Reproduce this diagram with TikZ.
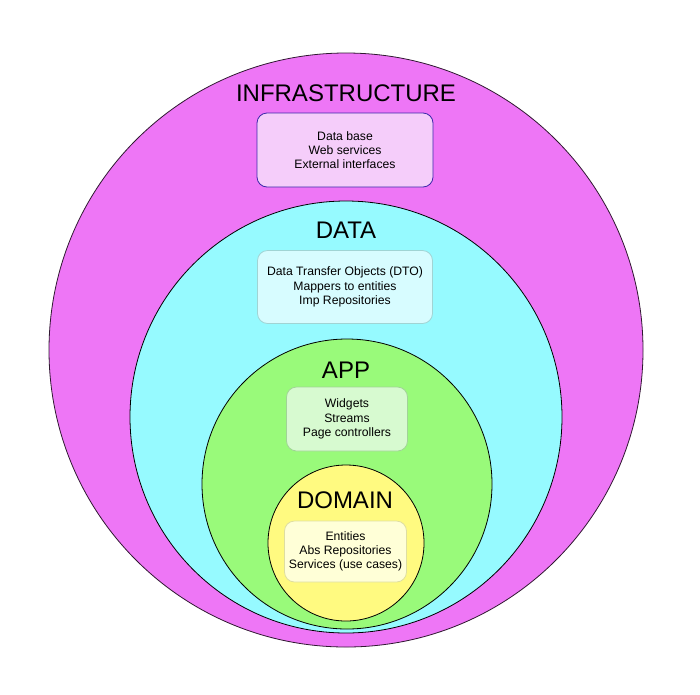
\documentclass[tikz,border=0pt]{standalone}
\usepackage{fontspec}
\setmainfont{Liberation Sans}
\definecolor{infra}{RGB}{238,118,246}
\definecolor{datac}{RGB}{150,250,255}
\definecolor{appc}{RGB}{153,250,122}
\definecolor{domc}{RGB}{255,250,128}
\definecolor{infrabox}{RGB}{245,205,250}
\definecolor{infraline}{RGB}{60,40,170}
\definecolor{databox}{RGB}{215,252,255}
\definecolor{dataline}{RGB}{160,212,212}
\definecolor{appbox}{RGB}{215,250,208}
\definecolor{appline}{RGB}{160,212,150}
\definecolor{dombox}{RGB}{255,255,215}
\definecolor{domline}{RGB}{222,222,160}
\begin{document}
\begin{tikzpicture}[x=1pt,y=-1pt,
  ring/.style={draw=black,line width=0.8pt},
  title/.style={font=\fontsize{24}{28}\selectfont,inner sep=0pt,anchor=center},
  infobox/.style={rounded corners=10pt,line width=0.8pt,align=center,
     font=\fontsize{12.2}{14.3}\selectfont,inner sep=0pt,anchor=center}]
\useasboundingbox (0,0) rectangle (700,694);
\fill[white] (0,0) rectangle (700,694);
% circles
\draw[ring,fill=infra,draw=black!80!infra] (346,350) circle[radius=297];
\draw[ring,fill=datac] (346,417) circle[radius=216];
\draw[ring,fill=appc] (347,484) circle[radius=145];
\draw[ring,fill=domc] (346,543) circle[radius=78];
% titles
\node[title] (tinfra) at (346,93) {INFRASTRUCTURE};
\node[title] (tdata) at (346,230) {DATA};
\node[title] (tapp) at (346,370) {APP};
\node[title] (tdom) at (345,500) {DOMAIN};
% boxes
\node[infobox,fill=infrabox,draw=infraline,minimum width=176pt,minimum height=74pt] (binfra) at (345,150) {Data base\\Web services\\External interfaces};
\node[infobox,fill=databox,draw=dataline,minimum width=175pt,minimum height=73pt] (bdata) at (345,287) {Data Transfer Objects (DTO)\\Mappers to entities\\Imp Repositories};
\node[infobox,fill=appbox,draw=appline,minimum width=121pt,minimum height=64pt] (bapp) at (347,419) {Widgets\\Streams\\Page controllers};
\node[infobox,fill=dombox,draw=domline,minimum width=122pt,minimum height=61pt] (bdom) at (345.5,551.5) {Entities\\Abs Repositories\\Services (use cases)};
\end{tikzpicture}
\end{document}
